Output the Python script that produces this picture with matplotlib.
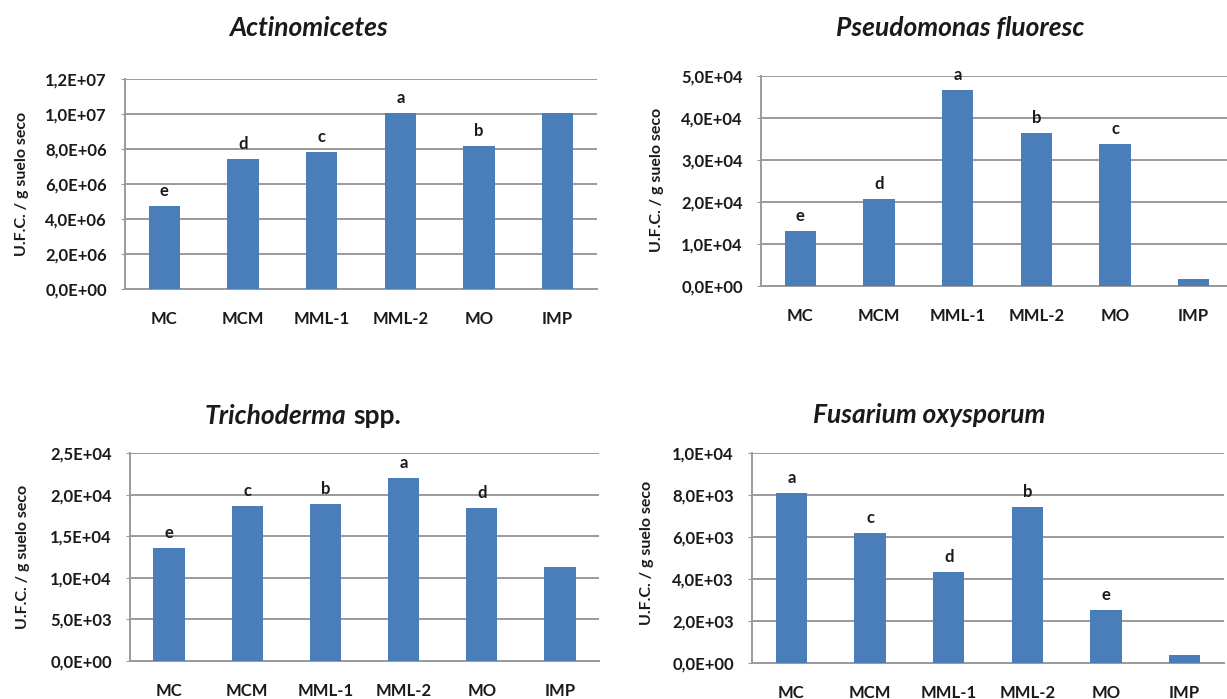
import matplotlib
matplotlib.use("Agg")
import matplotlib.pyplot as plt
from matplotlib.ticker import FuncFormatter

plt.rcParams['font.family'] = ['Lato', 'DejaVu Sans']
plt.rcParams['font.weight'] = 'bold'

categories = ["MC", "MCM", "MML-1", "MML-2", "MO", "IMP"]

actino = [4.74e6, 7.41e6, 7.83e6, 1.005e7, 8.18e6, 1.006e7]
actino_letters = ["e", "d", "c", "a", "b", ""]

pseudo = [1.32e4, 2.08e4, 4.66e4, 3.65e4, 3.39e4, 1.7e3]
pseudo_letters = ["e", "d", "a", "b", "c", ""]

tricho = [1.36e4, 1.86e4, 1.89e4, 2.20e4, 1.84e4, 1.13e4]
tricho_letters = ["e", "c", "b", "a", "d", ""]

fusar = [8.10e3, 6.19e3, 4.33e3, 7.43e3, 2.51e3, 3.7e2]
fusar_letters = ["a", "c", "d", "b", "e", ""]

W, H = 1227, 699
BAR = "#4a7ebb"
GRID = "#9a9a9a"
TXT = "#1a1a1a"

fig = plt.figure(figsize=(W / 100, H / 100), dpi=100)


def px_axes(left, right, top, bottom):
    return fig.add_axes([left / W, 1 - bottom / H, (right - left) / W, (bottom - top) / H])


def sci(v, pos):
    return f"{v:.1E}".replace(".", ",")


def panel(ax, vals, letters, ymax, step):
    x = range(len(categories))
    ax.bar(x, vals, width=0.4, color=BAR, zorder=3)
    for xi, v, l in zip(x, vals, letters):
        if l:
            ax.annotate(l, (xi, v), xytext=(0, 5), textcoords="offset points",
                        ha="center", va="bottom", fontsize=12, fontweight="bold",
                        color=TXT, annotation_clip=False)
    ax.set_xlim(-0.5, len(categories) - 0.5)
    ax.set_ylim(0, ymax)
    ax.set_yticks([i * step for i in range(int(round(ymax / step)) + 1)])
    ax.yaxis.set_major_formatter(FuncFormatter(sci))
    ax.set_xticks(list(x))
    ax.set_xticklabels(categories)
    ax.grid(axis="y", color=GRID, linewidth=1.4, zorder=0)
    for s in ["top", "right"]:
        ax.spines[s].set_visible(False)
    for s in ["left", "bottom"]:
        ax.spines[s].set_color(GRID)
        ax.spines[s].set_linewidth(1.4)
    ax.tick_params(axis="y", length=3, color=GRID, pad=10, labelsize=12, labelcolor=TXT)
    ax.tick_params(axis="x", length=0, pad=16, labelsize=12, labelcolor=TXT)
    for t in ax.get_xticklabels() + ax.get_yticklabels():
        t.set_fontweight("bold")


ax1 = px_axes(125, 597, 79, 289)
panel(ax1, actino, actino_letters, 1.2e7, 2e6)
ax2 = px_axes(761, 1233, 76, 286)
panel(ax2, pseudo, pseudo_letters, 5e4, 1e4)
ax3 = px_axes(130, 599, 453, 661)
panel(ax3, tricho, tricho_letters, 2.5e4, 5e3)
ax4 = px_axes(752, 1224, 453, 663)
panel(ax4, fusar, fusar_letters, 1e4, 2e3)

# titles
tkw = dict(fontsize=19, fontweight="bold", va="center", color=TXT)
fig.text(308 / W, 1 - 28 / H, "Actinomicetes", ha="center", style="italic", **tkw)
fig.text(960 / W, 1 - 28 / H, "Pseudomonas fluoresc", ha="center", style="italic", **tkw)
fig.text(929 / W, 1 - 415 / H, "Fusarium oxysporum", ha="center", style="italic", **tkw)
t1 = fig.text(346 / W, 1 - 428 / H, "Trichoderma", ha="right", va="bottom",
              style="italic", fontsize=19, fontweight="bold", color=TXT)
ax3.annotate("spp.", xy=(1, 0), xycoords=t1, xytext=(5, 0), textcoords="offset points",
             ha="left", va="bottom", fontsize=19, fontweight="bold", color=TXT,
             annotation_clip=False)

# y labels
ykw = dict(rotation=90, ha="center", va="center", fontsize=11.5, fontweight="bold", color=TXT)
fig.text(22 / W, 1 - 184 / H, "U.F.C. / g suelo seco", **ykw)
fig.text(657 / W, 1 - 180 / H, "U.F.C. / g suelo seco", **ykw)
fig.text(23 / W, 1 - 557 / H, "U.F.C. / g suelo seco", **ykw)
fig.text(647 / W, 1 - 553 / H, "U.F.C. / g suelo seco", **ykw)

fig.savefig("out.png", dpi=100)
